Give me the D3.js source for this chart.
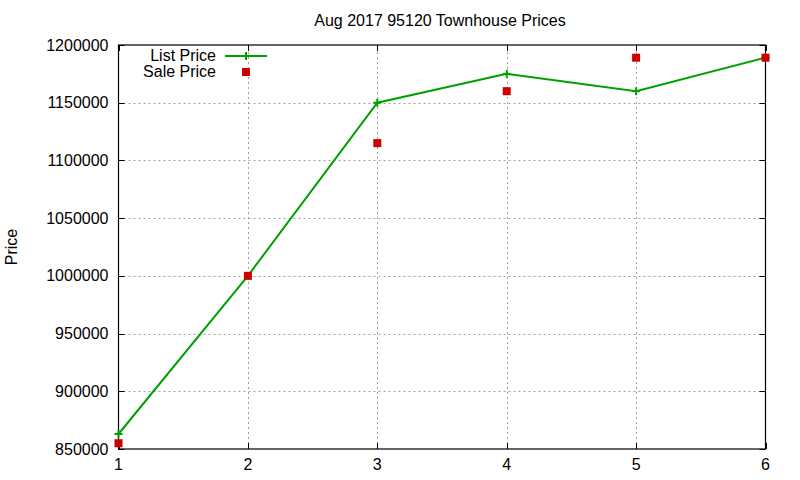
<!DOCTYPE html>
<html>
<head>
<meta charset="utf-8">
<script src="https://cdn.jsdelivr.net/npm/d3@7"></script>
<style>
  body { margin: 0; background: #fff; }
  svg { display: block; font-family: "Liberation Sans", Arial, sans-serif; }
</style>
</head>
<body>
<svg id="chart" width="800" height="480"></svg>
<script>
const xValues = [1, 2, 3, 4, 5, 6];
const listPrice = [863000, 1000000, 1150000, 1175000, 1160000, 1189000];
const salePrice = [855000, 1000000, 1115000, 1160000, 1189000, 1189000];
const yTicks = [850000, 900000, 950000, 1000000, 1050000, 1100000, 1150000, 1200000];
const xTicks = [1, 2, 3, 4, 5, 6];

const margin = { left: 118.5, right: 34.5, top: 45, bottom: 31 };
const width = 800, height = 480;
const green = '#00a000', red = '#cc0000';

const svg = d3.select('#chart');
const x = d3.scaleLinear().domain([1, 6]).range([margin.left, width - margin.right]);
const y = d3.scaleLinear().domain([850000, 1200000]).range([height - margin.bottom, margin.top]);

// grid
const grid = svg.append('g').attr('stroke', '#a0a0a0').attr('stroke-dasharray', '2,3').attr('stroke-width', 1);
yTicks.slice(1, -1).forEach((t) => {
  grid.append('line').attr('x1', x(1)).attr('x2', x(6)).attr('y1', Math.round(y(t)) + 0.5).attr('y2', Math.round(y(t)) + 0.5);
});
xTicks.slice(1, -1).forEach((t) => {
  grid.append('line').attr('x1', Math.round(x(t)) + 0.5).attr('x2', Math.round(x(t)) + 0.5).attr('y1', y(850000)).attr('y2', y(1200000));
});

// ticks (inward, mirrored)
const ticks = svg.append('g').attr('stroke', '#000').attr('stroke-width', 1);
yTicks.forEach((t) => {
  const yy = Math.round(y(t)) + 0.5;
  ticks.append('line').attr('x1', x(1)).attr('x2', x(1) + 6).attr('y1', yy).attr('y2', yy);
  ticks.append('line').attr('x1', x(6)).attr('x2', x(6) - 6).attr('y1', yy).attr('y2', yy);
});
xTicks.forEach((t) => {
  const xx = Math.round(x(t)) + 0.5;
  ticks.append('line').attr('x1', xx).attr('x2', xx).attr('y1', y(850000)).attr('y2', y(850000) - 6);
  ticks.append('line').attr('x1', xx).attr('x2', xx).attr('y1', y(1200000)).attr('y2', y(1200000) + 6);
});

// frame
svg.append('rect')
  .attr('x', x(1)).attr('y', y(1200000))
  .attr('width', x(6) - x(1)).attr('height', y(850000) - y(1200000))
  .attr('fill', 'none').attr('stroke', '#000').attr('stroke-width', 1.2);

// tick labels
svg.append('g').selectAll('text').data(yTicks).join('text')
  .attr('x', x(1) - 10).attr('y', (d) => y(d) + 5.5)
  .attr('text-anchor', 'end').attr('font-size', 16).attr('fill', '#000')
  .text((d) => d);
svg.append('g').selectAll('text').data(xTicks).join('text')
  .attr('x', (d) => x(d)).attr('y', y(850000) + 21)
  .attr('text-anchor', 'middle').attr('font-size', 16).attr('fill', '#000')
  .text((d) => d);

// title and axis label
svg.append('text').attr('x', 440).attr('y', 26).attr('text-anchor', 'middle')
  .attr('font-size', 16).text('Aug 2017 95120 Townhouse Prices');
svg.append('text').attr('transform', 'translate(17,247) rotate(-90)').attr('text-anchor', 'middle')
  .attr('font-size', 16).text('Price');

// list price line
const pts = xValues.map((d, i) => [d, listPrice[i]]);
svg.append('path')
  .attr('d', d3.line().x((d) => x(d[0])).y((d) => y(d[1]))(pts))
  .attr('fill', 'none').attr('stroke', green).attr('stroke-width', 2);
const plus = svg.append('g').attr('stroke', green).attr('stroke-width', 2);
pts.forEach((d) => {
  const px = x(d[0]), py = y(d[1]);
  plus.append('line').attr('x1', px - 4).attr('x2', px + 4).attr('y1', py).attr('y2', py);
  plus.append('line').attr('x1', px).attr('x2', px).attr('y1', py - 4).attr('y2', py + 4);
});

// sale price squares
svg.append('g').selectAll('rect').data(xValues.map((d, i) => [d, salePrice[i]])).join('rect')
  .attr('x', (d) => x(d[0]) - 4).attr('y', (d) => y(d[1]) - 4)
  .attr('width', 8).attr('height', 8).attr('fill', red);

// legend
const legend = svg.append('g');
legend.append('text').attr('x', 216).attr('y', 61).attr('text-anchor', 'end').attr('font-size', 16).text('List Price');
legend.append('line').attr('x1', 225).attr('x2', 267).attr('y1', 56).attr('y2', 56).attr('stroke', green).attr('stroke-width', 2);
legend.append('line').attr('x1', 246).attr('x2', 246).attr('y1', 52).attr('y2', 60).attr('stroke', green).attr('stroke-width', 2);
legend.append('text').attr('x', 216).attr('y', 77).attr('text-anchor', 'end').attr('font-size', 16).text('Sale Price');
legend.append('rect').attr('x', 242).attr('y', 68).attr('width', 8).attr('height', 8).attr('fill', red);
</script>
</body>
</html>
